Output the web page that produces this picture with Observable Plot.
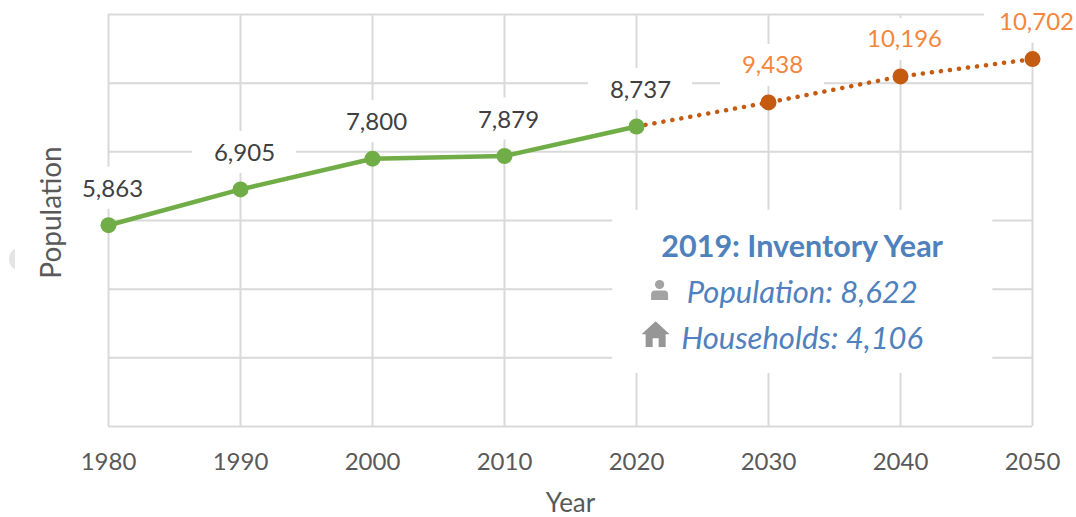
<!DOCTYPE html>
<html>
<head>
<meta charset="utf-8">
<script src="https://cdn.jsdelivr.net/npm/d3@7"></script>
<script src="https://cdn.jsdelivr.net/npm/@observablehq/plot@0.6"></script>
<style>
html,body{margin:0;padding:0;background:#fff;}
#chart{position:relative;width:1076px;height:517px;overflow:hidden;}
#chart svg{display:block;}
#crescent{position:absolute;left:9px;top:247px;width:6px;height:24px;overflow:hidden;}
#crescent i{position:absolute;left:0;top:0;width:24px;height:24px;border-radius:50%;background:#e4e4e4;display:block;}
</style>
</head>
<body>
<div id="chart"><div id="crescent"><i></i></div></div>
<script>
const years = [1980, 1990, 2000, 2010, 2020, 2030, 2040, 2050];
const yTicks = [0, 2000, 4000, 6000, 8000, 10000, 12000];
const historicYears = [1980, 1990, 2000, 2010, 2020];
const historicValues = [5863, 6905, 7800, 7879, 8737];
const forecastYears = [2020, 2030, 2040, 2050];
const forecastValues = [8737, 9438, 10196, 10702];
const forecastLabelYears = [2030, 2040, 2050];
const forecastLabelValues = [9438, 10196, 10702];

const historic = historicYears.map((year, i) => ({year, value: historicValues[i]}));
const forecast = forecastYears.map((year, i) => ({year, value: forecastValues[i]}));
const forecastLabels = forecastLabelYears.map((year, i) => ({year, value: forecastLabelValues[i]}));
const allLabels = historic.concat(forecastLabels);

const personSvg = "data:image/svg+xml," + encodeURIComponent('<svg xmlns="http://www.w3.org/2000/svg" viewBox="0 0 18 22"><circle cx="9" cy="5.5" r="4.6" fill="#a3a3a3"/><path d="M0.5 21V15.5Q0.5 11.5 4.5 11.5H13.5Q17.5 11.5 17.5 15.5V21Z" fill="#a3a3a3"/></svg>');
const houseSvg = "data:image/svg+xml," + encodeURIComponent('<svg xmlns="http://www.w3.org/2000/svg" viewBox="0 0 28 26"><path d="M14 0L28 13H24V26H17V17H11V26H4V13H0Z" fill="#969696"/></svg>');

const font = "Lato, Carlito, sans-serif";
const pxX = 70 / 924, pxY = 12000 / 412;

const plot = Plot.plot({
  width: 1076, height: 517,
  marginLeft: 108, marginRight: 44, marginTop: 14, marginBottom: 91,
  style: {fontFamily: font, background: "transparent", overflow: "visible"},
  x: {domain: [1980, 2050], axis: null},
  y: {domain: [0, 12000], axis: null},
  marks: [
    Plot.ruleY(yTicks, {stroke: "#d9d9d9", strokeWidth: 2}),
    Plot.ruleX(years, {stroke: "#d9d9d9", strokeWidth: 2}),
    // white boxes behind the value labels
    Plot.rect(allLabels, {
      x1: d => d.year + (4 - 52) * pxX, x2: d => d.year + (4 + 52) * pxX,
      y1: d => d.value + 16 * pxY, y2: d => d.value + 58 * pxY,
      fill: "white", clip: false
    }),
    // white annotation box
    Plot.rect([{x1: 2018.2, x2: 2047, y1: 1545, y2: 6297}], {x1: "x1", x2: "x2", y1: "y1", y2: "y2", fill: "white"}),
    Plot.axisX({ticks: years, tickFormat: "d", tickSize: 0, tickPadding: 26, fontSize: 24, fill: "#595959", label: null}),
    Plot.text(["Year"], {frameAnchor: "bottom", dy: 85, fontSize: 26, fill: "#595959"}),
    Plot.text(["Population"], {frameAnchor: "left", textAnchor: "middle", dx: -56, dy: -8, rotate: -90, fontSize: 28, fill: "#595959"}),
    Plot.line(forecast, {x: "year", y: "value", stroke: "#c55a11", strokeWidth: 4.5, strokeDasharray: "0.1 9", strokeLinecap: "round"}),
    Plot.line(historic, {x: "year", y: "value", stroke: "#70ad47", strokeWidth: 4.5}),
    Plot.dot(historic, {x: "year", y: "value", r: 8, fill: "#70ad47"}),
    Plot.dot(forecastLabels, {x: "year", y: "value", r: 8, fill: "#c55a11"}),
    Plot.text(historic, {x: "year", y: "value", text: d => d3.format(",")(d.value), dx: 4, dy: -36, fontSize: 24, fill: "#404040"}),
    Plot.text(forecastLabels, {x: "year", y: "value", text: d => d3.format(",")(d.value), dx: 4, dy: -37, fontSize: 24, fill: "#f4863c"}),
    // annotation
    Plot.text(["2019: Inventory Year"], {x: () => 2032.55, y: () => 5210, fontSize: 30.5, fontWeight: 700, fill: "#4f81bd"}),
    Plot.text(["Population: 8,622"], {x: () => 2032.55, y: () => 3880, fontSize: 31, fontStyle: "italic", fill: "#4f81bd"}),
    Plot.text(["Households: 4,106"], {x: () => 2032.55, y: () => 2550, fontSize: 31, fontStyle: "italic", fill: "#4f81bd"}),
    Plot.image(["person"], {x: () => 2021.75, y: () => 3975, src: () => personSvg, width: 18, height: 22}),
    Plot.image(["house"], {x: () => 2021.45, y: () => 2690, src: () => houseSvg, width: 28, height: 26})
  ]
});
document.getElementById("chart").appendChild(plot);
</script>
</body>
</html>
